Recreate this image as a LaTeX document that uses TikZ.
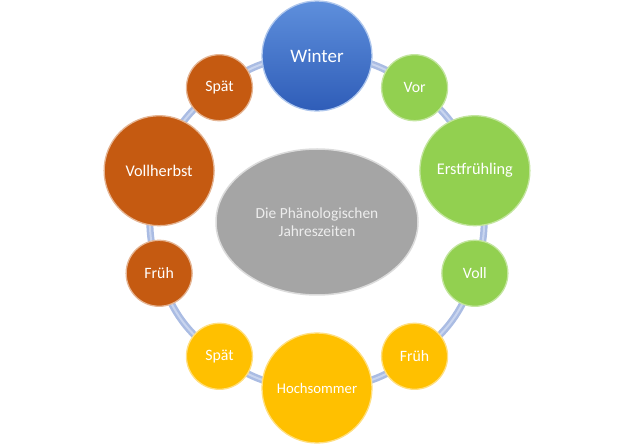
\documentclass[tikz,border=0pt]{standalone}
\usepackage{fontspec}
\setmainfont{Carlito}
\usetikzlibrary{shapes.geometric,calc}
\pgfdeclarelayer{background}
\pgfsetlayers{background,main}
\definecolor{wblueT}{HTML}{5E8FDC}
\definecolor{wblueB}{HTML}{2F5DB8}
\definecolor{sgreen}{HTML}{92D050}
\definecolor{sorange}{HTML}{C55A11}
\definecolor{syellow}{HTML}{FFC000}
\definecolor{sgrey}{HTML}{A5A5A5}
\definecolor{ringblue}{HTML}{AABCE3}
\definecolor{ringlight}{HTML}{C9D5EF}
\tikzset{
  ball/.style={circle, inner sep=0pt, text=white, line width=1.3pt},
  bigball/.style={ball, minimum size=110pt, font=\fontsize{16.3}{19}\selectfont},
  smallball/.style={ball, minimum size=66pt, font=\fontsize{15.8}{19}\selectfont},
  greenball/.style={fill=sgreen, draw=sgreen!55!white},
  orangeball/.style={fill=sorange, draw=sorange!45!white},
  yellowball/.style={fill=syellow, draw=syellow!50!white},
  ringlink/.style={draw=ringblue, line width=7pt},
  ringhi/.style={draw=ringlight, line width=2pt},
}
\begin{document}
\begin{tikzpicture}
\useasboundingbox (0,0) rectangle (631pt,444pt);
\coordinate (c) at (317pt,222pt);
% centre ellipse
\node[ellipse, minimum width=202pt, minimum height=146pt, fill=sgrey, draw=sgrey!40!white, line width=1.5pt, text=white!93!black, align=center, font=\fontsize{15.4}{18}\selectfont] (ctr) at (c) {Die Phänologischen\\Jahreszeiten};
% ring nodes
\node[bigball, top color=wblueT, bottom color=wblueB, draw=wblueT!50!white, font=\fontsize{19}{21}\selectfont] (n0) at ($(c)+(90:166pt)$) {Winter};
\node[smallball, greenball] (n1) at ($(c)+(54:166pt)$) {Vor};
\node[bigball, greenball] (n2) at ($(c)+(18:166pt)$) {Erstfrühling};
\node[smallball, greenball] (n3) at ($(c)+(-18:166pt)$) {Voll};
\node[smallball, yellowball] (n4) at ($(c)+(-54:166pt)$) {Früh};
\node[bigball, yellowball, font=\fontsize{14.7}{17}\selectfont] (n5) at ($(c)+(-90:166pt)$) {Hochsommer};
\node[smallball, yellowball] (n6) at ($(c)+(-126:166pt)$) {Spät};
\node[smallball, orangeball] (n7) at ($(c)+(-162:166pt)$) {Früh};
\node[bigball, orangeball] (n8) at ($(c)+(162:166pt)$) {Vollherbst};
\node[smallball, orangeball] (n9) at ($(c)+(126:166pt)$) {Spät};
% ring connectors
\begin{pgfonlayer}{background}
\foreach \a/\b in {n0/n1,n1/n2,n2/n3,n3/n4,n4/n5,n5/n6,n6/n7,n7/n8,n8/n9,n9/n0}{
  \draw[ringlink] (\a.center) to[bend left=18] (\b.center);
  \draw[ringhi] (\a.center) to[bend left=18] (\b.center);
}
\end{pgfonlayer}
\end{tikzpicture}
\end{document}
